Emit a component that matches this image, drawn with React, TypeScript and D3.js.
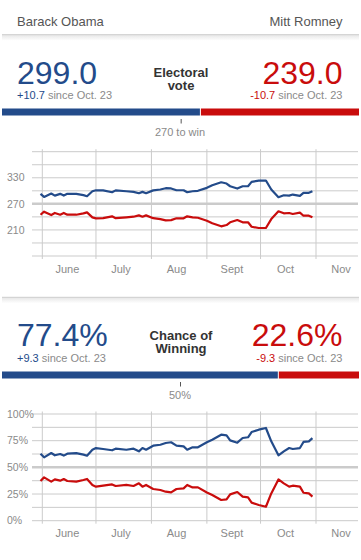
import React from "react";
import * as d3 from "d3";

const BLUE = "#234b8a";
const RED = "#c90c0c";
const GRID = "#cbcbcb";
const FONT = "'Liberation Sans', Arial, Helvetica, sans-serif";

// forecast dates (2012)
const dayLabels = [
  "05-31", "06-02", "06-06", "06-08", "06-11", "06-13", "06-15", "06-20", "06-24", "06-26",
  "06-29", "07-01", "07-05", "07-10", "07-12", "07-18", "07-22", "07-25", "07-27", "07-29",
  "08-02", "08-06", "08-09", "08-12", "08-15", "08-19", "08-21", "08-24", "08-27", "09-01",
  "09-04", "09-09", "09-12", "09-14", "09-18", "09-21", "09-24", "09-26", "09-30", "10-04",
  "10-07", "10-11", "10-14", "10-17", "10-19", "10-23", "10-25", "10-28", "10-30",
];

const obamaEV = [
  293, 286, 293.7, 289, 293, 289, 293, 293, 290, 287.5,
  299, 301.3, 301, 296.7, 301, 299, 297.6, 294.5, 297.6, 294.5,
  301, 303, 306, 305.5, 301.3, 301.3, 296.7, 299, 300, 306.8,
  312.8, 319.7, 316.7, 310.5, 305.2, 310.5, 310.5, 320.6, 323.6, 323.6,
  303, 285.2, 289.8, 289, 291.4, 288.3, 295.3, 295.3, 299.0,
];
const romneyEV = [
  245, 252, 244.3, 249, 245, 249, 245, 245, 248, 250.5,
  239, 236.7, 237, 241.3, 237, 239, 240.4, 243.5, 240.4, 243.5,
  237, 235, 232, 232.5, 236.7, 236.7, 241.3, 239, 238, 231.2,
  225.2, 218.3, 221.3, 227.5, 232.8, 227.5, 227.5, 217.4, 214.4, 214.4,
  235, 252.8, 248.2, 249, 246.6, 249.7, 242.7, 242.7, 239.0,
];
const obamaWin = [
  62.8, 59.4, 63.4, 61.3, 62.5, 61, 62.8, 63.4, 61.9, 60.9,
  66.5, 68.1, 67.2, 66, 67.5, 66.5, 67.5, 65, 68.1, 66.5,
  70.3, 71.2, 72.8, 73.5, 70.3, 69.7, 66.5, 68.8, 68.8, 73.5,
  75.9, 80.6, 80, 75.3, 73.1, 77.5, 78.2, 83.1, 85.3, 86.9,
  74.4, 61.3, 65, 68.1, 67.2, 68.1, 73.8, 74.4, 77.4,
];
const romneyWin = [
  37.2, 40.6, 36.6, 38.7, 37.5, 39, 37.2, 36.6, 38.1, 39.1,
  33.5, 31.9, 32.8, 34, 32.5, 33.5, 32.5, 35, 31.9, 33.5,
  29.7, 28.8, 27.2, 26.5, 29.7, 30.3, 33.5, 31.2, 31.2, 26.5,
  24.1, 19.4, 20, 24.7, 26.9, 22.5, 21.8, 16.9, 14.7, 13.1,
  25.6, 38.7, 35, 31.9, 32.8, 31.9, 26.2, 25.6, 22.6,
];

const monthNames = ["June", "July", "Aug", "Sept", "Oct", "Nov"];
const evTicks = [210, 270, 330];
const winTicks = [0, 25, 50, 75, 100];

const dates = dayLabels.map(s => new Date(`2012-${s}T00:00:00`));

const x = d3.scaleTime()
  .domain([new Date(2012, 5, 1), new Date(2012, 10, 1)])
  .range([42.3, 316]);
const monthStarts = d3.timeMonth.range(new Date(2012, 5, 1), new Date(2012, 10, 2));

function Header({ top, bigY, left, right, leftSub, rightSub, label, total, mark, markLabel, fmt }) {
  const bx = d3.scaleLinear().domain([0, total]).range([2, 359]);
  const split = bx(left);
  return (
    <g>
      <text x={17} y={bigY} fontSize={32} fill={BLUE}>{fmt(left)}</text>
      <text x={342.5} y={bigY} fontSize={32} fill={RED} textAnchor="end">{fmt(right)}</text>
      <text x={181} y={top - 7} fontSize={13} fontWeight="bold" fill="#333" textAnchor="middle">{label[0]}</text>
      <text x={181} y={top + 6} fontSize={13} fontWeight="bold" fill="#333" textAnchor="middle">{label[1]}</text>
      <text x={17} y={top + 14.5} fontSize={11} fill="#8a8a8a">
        <tspan fill={BLUE}>{leftSub}</tspan> since Oct. 23
      </text>
      <text x={342.5} y={top + 14.5} fontSize={11} fill="#8a8a8a" textAnchor="end">
        <tspan fill={RED}>{rightSub}</tspan> since Oct. 23
      </text>
      <rect x={2} y={top + 24.5} width={split - 0.5 - 2} height={7} fill={BLUE} />
      <rect x={split + 0.5} y={top + 24.5} width={359 - split - 0.5} height={7} fill={RED} />
      <line x1={bx(mark)} x2={bx(mark)} y1={top + 35} y2={top + 39.5} stroke="#555" strokeWidth={1} />
      <text x={180} y={top + 52} fontSize={11} fill="#8a8a8a" textAnchor="middle">{markLabel}</text>
    </g>
  );
}

function Chart({ domain, rTop, rBottom, step, ticks, fmt, mid, blue, red, monthY }) {
  const y = d3.scaleLinear().domain(domain).range([rBottom, rTop]);
  const grid = d3.range(domain[0], domain[1] + step / 2, step);
  const line = d3.line<number>()
    .x((_, i) => x(dates[i]))
    .y(d => y(d));
  return (
    <g>
      {grid.filter(v => v !== mid).map(v => (
        <line key={v} x1={32} x2={358} y1={y(v)} y2={y(v)} stroke={GRID} strokeWidth={1} />
      ))}
      {monthStarts.map(m => (
        <line key={+m} x1={x(m)} x2={x(m)} y1={rTop - 2.5} y2={rBottom + 3} stroke={GRID} strokeWidth={1} />
      ))}
      <line x1={32} x2={358} y1={y(mid)} y2={y(mid)} stroke={GRID} strokeWidth={2.5} />
      {ticks.map(v => (
        <text key={v} x={7} y={y(v)} dy="0.35em" fontSize={10.5} fill="#8a8a8a">{fmt(v)}</text>
      ))}
      {monthStarts.map((m, i) => (
        <text key={i} x={x(d3.timeDay.offset(m, 14))} y={monthY} fontSize={11} fill="#8a8a8a" textAnchor="middle">
          {monthNames[i]}
        </text>
      ))}
      <path d={line(red)} fill="none" stroke={RED} strokeWidth={2.2} strokeLinejoin="round" />
      <path d={line(blue)} fill="none" stroke={BLUE} strokeWidth={2.2} strokeLinejoin="round" />
    </g>
  );
}

function Divider({ y }) {
  return (
    <g>
      <rect x={2} y={y} width={357} height={6} fill="url(#shade)" />
      <line x1={2} x2={359} y1={y} y2={y} stroke="#cdcdcd" strokeWidth={1} />
    </g>
  );
}

export default function App() {
  return (
    <svg width={361} height={560} style={{ position: "absolute", left: 0, top: 0, background: "#fff" }}
      fontFamily={FONT}>
      <defs>
        <linearGradient id="shade" x1="0" y1="0" x2="0" y2="1">
          <stop offset="0" stopColor="#e6e6e6" />
          <stop offset="1" stopColor="#fff" />
        </linearGradient>
      </defs>
      <text x={17} y={25.5} fontSize={13} fill="#555">Barack Obama</text>
      <text x={342.5} y={25.5} fontSize={13} fill="#555" textAnchor="end">Mitt Romney</text>
      <Divider y={34.7} />
      <Header top={84} bigY={83.5} left={299.0} right={239.0} leftSub="+10.7" rightSub="-10.7"
        label={["Electoral", "vote"]} total={538} mark={270} markLabel="270 to win"
        fmt={v => v.toFixed(1)} />
      <Chart domain={[150, 390]} rTop={151.7} rBottom={256} step={30} ticks={evTicks}
        fmt={v => String(v)} mid={270} blue={obamaEV} red={romneyEV} monthY={273} />
      <Divider y={297.3} />
      <Header top={347} bigY={345.5} left={77.4} right={22.6} leftSub="+9.3" rightSub="-9.3"
        label={["Chance of", "Winning"]} total={100} mark={50} markLabel="50%"
        fmt={v => v.toFixed(1) + "%"} />
      <Chart domain={[0, 100]} rTop={414} rBottom={520.7} step={12.5} ticks={winTicks}
        fmt={v => v + "%"} mid={50} blue={obamaWin} red={romneyWin} monthY={536.5} />
    </svg>
  );
}
